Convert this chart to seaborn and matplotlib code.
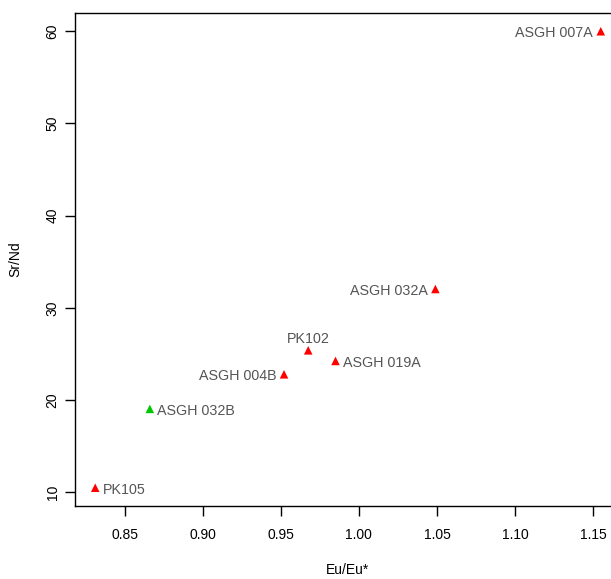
import matplotlib
matplotlib.use("Agg")
import matplotlib.pyplot as plt
import seaborn as sns
import pandas as pd

samples = ["PK105", "ASGH 032B", "ASGH 004B", "PK102", "ASGH 019A", "ASGH 032A", "ASGH 007A"]
eu_ratio = [0.831, 0.866, 0.952, 0.9675, 0.985, 1.049, 1.155]
sr_nd = [10.5, 19.05, 22.8, 25.4, 24.25, 32.05, 60.0]
group = ["A", "B", "A", "A", "A", "A", "A"]
label_pos = ["right", "right", "left", "top", "right", "left", "left"]
x_ticks = [0.85, 0.90, 0.95, 1.00, 1.05, 1.10, 1.15]
y_ticks = [10, 20, 30, 40, 50, 60]

df = pd.DataFrame({"sample": samples, "x": eu_ratio, "y": sr_nd, "group": group})

sns.set_theme(style="white")
plt.rcParams["font.family"] = ["Liberation Sans", "DejaVu Sans"]

fig = plt.figure(figsize=(6.11, 5.79), dpi=100)
ax = fig.add_axes([75 / 611, 1 - 506 / 579, (621 - 75) / 611, (506 - 13) / 579])

sns.scatterplot(data=df, x="x", y="y", hue="group", palette={"A": "#FF0000", "B": "#00C800"},
                marker="^", s=38, edgecolor="none", linewidth=0, legend=False, ax=ax)

for s, xv, yv, p in zip(samples, eu_ratio, sr_nd, label_pos):
    if p == "right":
        ax.annotate(s, (xv, yv), xytext=(5.5, -1.5), textcoords="offset points",
                    ha="left", va="center", fontsize=10.3, color="#555555")
    elif p == "left":
        ax.annotate(s, (xv, yv), xytext=(-5.5, -1.5), textcoords="offset points",
                    ha="right", va="center", fontsize=10.3, color="#555555")
    else:
        ax.annotate(s, (xv, yv), xytext=(0, 8), textcoords="offset points",
                    ha="center", va="center", fontsize=10.3, color="#555555")

xr = max(eu_ratio) - min(eu_ratio)
yr = max(sr_nd) - min(sr_nd)
ax.set_xlim(min(eu_ratio) - 0.04 * xr, max(eu_ratio) + 0.04 * xr)
ax.set_ylim(min(sr_nd) - 0.04 * yr, max(sr_nd) + 0.04 * yr)
ax.set_xticks(x_ticks)
ax.set_xticklabels([f"{v:.2f}" for v in x_ticks])
ax.set_yticks(y_ticks)
ax.set_yticklabels([str(v) for v in y_ticks], rotation=90, va="center")

ax.tick_params(axis="both", which="major", direction="out", length=7, width=1,
               color="black", labelsize=10, labelcolor="black",
               bottom=True, left=True)
ax.tick_params(axis="x", pad=9)
ax.tick_params(axis="y", pad=4)
for sp in ax.spines.values():
    sp.set_color("black")
    sp.set_linewidth(1.0)
    sp.set_visible(True)

ax.set_xlabel("Eu/Eu*", fontsize=10, labelpad=15, color="black")
ax.set_ylabel("Sr/Nd", fontsize=10, labelpad=17, color="black")
ax.grid(False)

fig.savefig("out.png", dpi=100)
